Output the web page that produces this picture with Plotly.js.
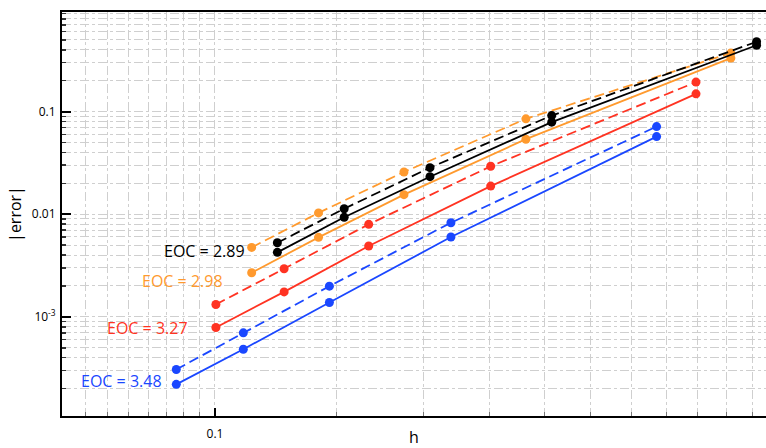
<!DOCTYPE html>
<html>
<head>
<meta charset="utf-8">
<script src="https://cdn.plot.ly/plotly-3.0.1.min.js"></script>
<style>html,body{margin:0;padding:0;background:#fff;overflow:hidden;}</style>
</head>
<body>
<div id="chart" style="width:766px;height:448px;"></div>
<script>
// ---- data ----
const hBlue   = [0.0879, 0.1099, 0.1464, 0.2195, 0.4356];
const hRed    = [0.1003, 0.1259, 0.1669, 0.2506, 0.4967];
const hOrange = [0.1130, 0.1412, 0.1877, 0.2818, 0.5579];
const hBlack  = [0.1231, 0.1538, 0.2047, 0.3071, 0.6078];

const errBlueSolid    = [2.20e-4, 4.84e-4, 1.38e-3, 5.99e-3, 0.0570];
const errBlueDashed   = [3.07e-4, 6.98e-4, 1.99e-3, 8.26e-3, 0.0714];
const errRedSolid     = [7.88e-4, 1.75e-3, 4.90e-3, 0.0188, 0.1488];
const errRedDashed    = [1.32e-3, 2.94e-3, 7.97e-3, 0.0293, 0.1936];
const errOrangeSolid  = [2.69e-3, 5.95e-3, 0.0155, 0.0538, 0.332];
const errOrangeDashed = [4.75e-3, 0.0103, 0.0258, 0.0849, 0.3715];
const errBlackSolid   = [4.25e-3, 9.33e-3, 0.0232, 0.0788, 0.4426];
const errBlackDashed  = [5.27e-3, 0.0113, 0.0284, 0.0914, 0.4786];

const eocLabels = ["EOC = 3.48", "EOC = 3.27", "EOC = 2.98", "EOC = 2.89"];
const eocLabelX = [0.0845, 0.0921, 0.1035, 0.1112];
const eocLabelY = [2.36e-4, 7.81e-4, 2.25e-3, 4.405e-3];

const xTickVals = [0.1];
const xTickText = ["0.1"];
const xMinorVals = [0.065, 0.07, 0.075, 0.08, 0.085, 0.09, 0.095,
                    0.15, 0.2, 0.25, 0.3, 0.35, 0.4, 0.45, 0.5, 0.55, 0.6, 0.65];
const yTickVals = [0.001, 0.01, 0.1];
const yTickText = ["10<sup>-3</sup>", "0.01", "0.1"];
const yMinorVals = [2e-4, 3e-4, 4e-4, 5e-4, 6e-4, 7e-4, 8e-4, 9e-4,
                    2e-3, 3e-3, 4e-3, 5e-3, 6e-3, 7e-3, 8e-3, 9e-3,
                    0.02, 0.03, 0.04, 0.05, 0.06, 0.07, 0.08, 0.09,
                    0.2, 0.3, 0.4, 0.5, 0.6, 0.7, 0.8, 0.9];

// ---- styles ----
const colors = {blue: "#1a47ff", red: "#ff3322", orange: "#ff9a2e", black: "#000000"};
const seriesDefs = [
  {h: hBlue,   solid: errBlueSolid,   dashed: errBlueDashed,   c: colors.blue},
  {h: hRed,    solid: errRedSolid,    dashed: errRedDashed,    c: colors.red},
  {h: hOrange, solid: errOrangeSolid, dashed: errOrangeDashed, c: colors.orange},
  {h: hBlack,  solid: errBlackSolid,  dashed: errBlackDashed,  c: colors.black}
];

const traces = [];
seriesDefs.forEach(s => {
  traces.push({x: s.h, y: s.solid, type: "scatter", mode: "lines+markers",
    line: {color: s.c, width: 1.8}, marker: {color: s.c, size: 9}, showlegend: false});
  traces.push({x: s.h, y: s.dashed, type: "scatter", mode: "lines+markers",
    line: {color: s.c, width: 1.8, dash: "10px,5px"}, marker: {color: s.c, size: 9}, showlegend: false});
});

const labelColors = [colors.blue, colors.red, colors.orange, colors.black];
const annotations = eocLabels.map((t, i) => ({
  x: Math.log10(eocLabelX[i]), y: Math.log10(eocLabelY[i]), xref: "x", yref: "y",
  text: t, showarrow: false, xanchor: "right", yanchor: "middle",
  font: {family: "Open Sans, sans-serif", size: 16, color: labelColors[i]}
}));

const gridCol = "#cfcfcf";
const layout = {
  width: 766, height: 448,
  margin: {l: 62, r: 0, t: 12, b: 32},
  paper_bgcolor: "#fff", plot_bgcolor: "#fff",
  font: {family: "Open Sans, sans-serif", color: "#000"},
  showlegend: false,
  xaxis: {
    type: "log", range: [-1.2214, -0.2026],
    tickmode: "array", tickvals: xTickVals, ticktext: xTickText,
    ticks: "inside", ticklen: 8, tickwidth: 1.5, tickcolor: "#000",
    tickfont: {size: 12}, ticklabelstandoff: 6,
    showgrid: true, gridcolor: gridCol, griddash: "dashdot", gridwidth: 1,
    minor: {tickmode: "array", tickvals: xMinorVals, ticks: "inside", ticklen: 4,
            tickcolor: "#777", tickwidth: 1, showgrid: true, gridcolor: gridCol, griddash: "dashdot", gridwidth: 1},
    showline: true, linecolor: "#000", linewidth: 2, mirror: true,
    zeroline: false,
    title: {text: "h", font: {size: 16}, standoff: 4}
  },
  yaxis: {
    type: "log", range: [-3.966, -0.030],
    tickmode: "array", tickvals: yTickVals, ticktext: yTickText,
    ticks: "inside", ticklen: 9, tickwidth: 2, tickcolor: "#000",
    tickfont: {size: 12}, ticklabelstandoff: 2,
    showgrid: true, gridcolor: gridCol, griddash: "dashdot", gridwidth: 1,
    minor: {tickmode: "array", tickvals: yMinorVals, ticks: "inside", ticklen: 4,
            tickcolor: "#333", tickwidth: 1.5, showgrid: true, gridcolor: gridCol, griddash: "dashdot", gridwidth: 1},
    showline: true, linecolor: "#000", linewidth: 2, mirror: false,
    zeroline: false,
    title: {text: "|error|", font: {size: 16}, standoff: 6}
  },
  annotations: annotations
};

Plotly.newPlot("chart", traces, layout, {displayModeBar: false, staticPlot: true});
</script>
</body>
</html>
